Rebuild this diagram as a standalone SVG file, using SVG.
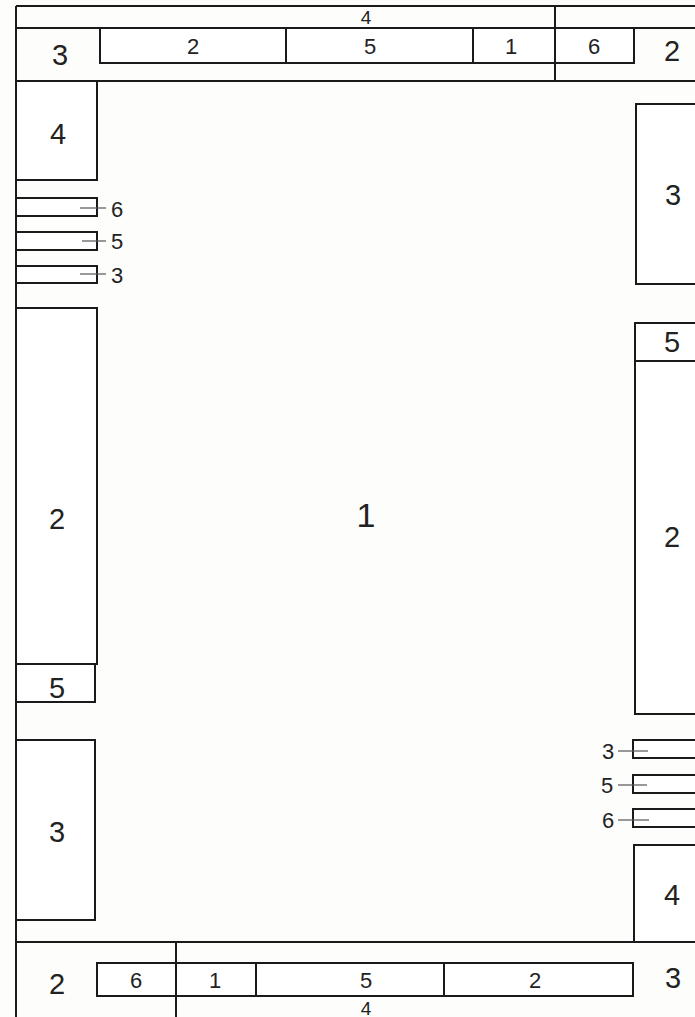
<svg xmlns="http://www.w3.org/2000/svg" width="695" height="1017" viewBox="0 0 695 1017">
<style>
.l{stroke:#1a1a1a;stroke-width:2;fill:none}
.b{fill:#fff;stroke:#1a1a1a;stroke-width:2}
.t{stroke:#555;stroke-width:1.2}
text{font-family:"Liberation Sans",Arial,sans-serif;fill:#222;text-anchor:middle;dominant-baseline:central}
.L{font-size:29px}
.M{font-size:22px}
.S{font-size:19px}
</style>
<rect width="695" height="1017" fill="#fdfdfc"/>
<g id="frame">
<line class="l" x1="16" y1="6" x2="695" y2="6"/>
<line class="l" x1="16" y1="6" x2="16" y2="1017"/>
<line class="l" x1="16" y1="28" x2="695" y2="28"/>
<line class="l" x1="16" y1="81" x2="695" y2="81"/>
<line class="l" x1="555" y1="6" x2="555" y2="81"/>
<line class="l" x1="16" y1="942" x2="695" y2="942"/>
<line class="l" x1="176" y1="942" x2="176" y2="1017"/>
</g>
<g id="top-band">
<text class="S" x="366" y="17">4</text>
<text class="L" x="60" y="55">3</text>
<text class="L" x="672" y="51">2</text>
<rect class="b" x="100" y="28" width="534" height="35"/>
<line class="l" x1="286" y1="28" x2="286" y2="63"/>
<line class="l" x1="473" y1="28" x2="473" y2="63"/>
<line class="l" x1="555" y1="28" x2="555" y2="63"/>
<text class="M" x="193" y="46">2</text>
<text class="M" x="370" y="46">5</text>
<text class="M" x="511" y="46">1</text>
<text class="M" x="594" y="46">6</text>
</g>
<g id="left-4"><rect class="b" x="16" y="81" width="81" height="99"/><text class="L" x="58" y="134">4</text></g>
<g id="left-small">
<rect class="b" x="16" y="198" width="81" height="18"/>
<rect class="b" x="16" y="232" width="81" height="18"/>
<rect class="b" x="16" y="266" width="81" height="17"/>
<line class="t" x1="80" y1="208" x2="106" y2="208"/>
<line class="t" x1="82" y1="241" x2="106" y2="241"/>
<line class="t" x1="80" y1="274" x2="106" y2="274"/>
<text class="M" x="117" y="209">6</text>
<text class="M" x="117" y="241">5</text>
<text class="M" x="117" y="275">3</text>
</g>
<g id="left-2"><rect class="b" x="16" y="308" width="81" height="356"/><text class="L" x="57" y="519">2</text></g>
<g id="left-5"><rect class="b" x="16" y="664" width="79" height="38"/><text class="L" x="57" y="688">5</text></g>
<g id="left-3"><rect class="b" x="16" y="740" width="79" height="180"/><text class="L" x="57" y="832">3</text></g>
<g id="center"><text class="L" x="366" y="515" style="font-size:34px">1</text></g>
<g id="right-3"><rect class="b" x="636" y="104" width="62" height="180"/><text class="L" x="673" y="195">3</text></g>
<g id="right-5"><rect class="b" x="635" y="323" width="63" height="38"/><text class="L" x="672" y="342">5</text></g>
<g id="right-2"><rect class="b" x="635" y="361" width="63" height="353"/><text class="L" x="672" y="537">2</text></g>
<g id="right-small">
<rect class="b" x="633" y="740" width="65" height="18"/>
<rect class="b" x="633" y="775" width="65" height="18"/>
<rect class="b" x="633" y="809" width="65" height="18"/>
<line class="t" x1="618" y1="751" x2="648" y2="751"/>
<line class="t" x1="618" y1="785" x2="647" y2="785"/>
<line class="t" x1="618" y1="820" x2="649" y2="820"/>
<text class="M" x="608" y="751">3</text>
<text class="M" x="607" y="785">5</text>
<text class="M" x="608" y="820">6</text>
</g>
<g id="right-4"><rect class="b" x="634" y="845" width="64" height="97"/><text class="L" x="672" y="895">4</text></g>
<g id="bottom-band">
<text class="L" x="57" y="984">2</text>
<text class="L" x="673" y="978">3</text>
<rect class="b" x="97" y="963" width="536" height="33"/>
<line class="l" x1="176" y1="963" x2="176" y2="996"/>
<line class="l" x1="256" y1="963" x2="256" y2="996"/>
<line class="l" x1="444" y1="963" x2="444" y2="996"/>
<text class="M" x="136" y="980">6</text>
<text class="M" x="215" y="980">1</text>
<text class="M" x="366" y="980">5</text>
<text class="M" x="535" y="980">2</text>
<text class="S" x="366" y="1008">4</text>
</g>
</svg>
